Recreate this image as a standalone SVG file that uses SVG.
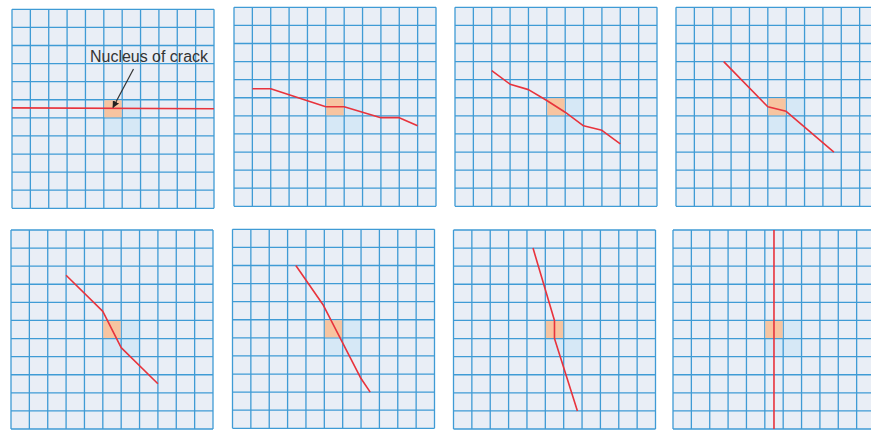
<svg xmlns="http://www.w3.org/2000/svg" xmlns:xlink="http://www.w3.org/1999/xlink" width="871" height="430" viewBox="0 0 871 430">
<style>
.bg{fill:#e9eef6}
.zone{fill:#d6e8f6}
.gl{fill:none;stroke:#3f9bd5;stroke-width:1.3}
.nuc{fill:#f7c4a0}
.crack{fill:none;stroke:#e8333c;stroke-width:1.6;stroke-linejoin:round;vector-effect:non-scaling-stroke}
.lbl{font-family:"Liberation Sans",Arial,sans-serif;font-size:16px;fill:#333}
.ptr{fill:none;stroke:#333;stroke-width:1.2}
</style>
<defs>
<marker id="ah" viewBox="0 0 10 10" refX="9" refY="5" markerWidth="7" markerHeight="7" orient="auto" markerUnits="userSpaceOnUse">
<path d="M0 0L10 5L0 10z" fill="#222"/>
</marker>
<g id="grid">
<rect class="bg" x="0" y="0" width="202" height="199"/>
<rect class="zone" x="91.82" y="90.45" width="36.73" height="36.19"/>
<path class="gl" d="M0 0V199M18.36 0V199M36.73 0V199M55.09 0V199M73.45 0V199M91.82 0V199M110.18 0V199M128.55 0V199M146.91 0V199M165.27 0V199M183.64 0V199M202 0V199M0 0H202M0 18.09H202M0 36.18H202M0 54.27H202M0 72.36H202M0 90.45H202M0 108.55H202M0 126.64H202M0 144.73H202M0 162.82H202M0 180.91H202M0 199H202"/>
<rect class="nuc" x="92.3" y="90.95" width="17.4" height="17.1"/>
</g>
</defs>
<g id="panel-1" transform="translate(12,9.3)">
<use xlink:href="#grid"/>
<polyline class="crack" transform="scale(18.36,18.09)" points="0,5.45 11,5.5"/>
</g>
<g id="panel-2" transform="translate(234,7.3)">
<use xlink:href="#grid"/>
<polyline class="crack" transform="scale(18.36,18.09)" points="1,4.5 2,4.5 5,5.5 6,5.5 8,6.1 9,6.1 10,6.55"/>
</g>
<g id="panel-3" transform="translate(455,7.3)">
<use xlink:href="#grid"/>
<polyline class="crack" transform="scale(18.36,18.09)" points="2,3.5 3,4.25 4,4.55 5,5.15 6,5.8 7,6.55 8,6.8 9,7.55"/>
</g>
<g id="panel-4" transform="translate(676,7.3)">
<use xlink:href="#grid"/>
<polyline class="crack" transform="scale(18.36,18.09)" points="2.6,3 5,5.5 6,5.75 8.6,8"/>
</g>
<g id="panel-5" transform="translate(11,230)">
<use xlink:href="#grid"/>
<polyline class="crack" transform="scale(18.36,18.09)" points="3,2.5 5,4.5 6,6.5 8,8.5"/>
</g>
<g id="panel-6" transform="translate(232.5,229.3)">
<use xlink:href="#grid"/>
<polyline class="crack" transform="scale(18.36,18.09)" points="3.45,2 4.95,4.2 7,8.25 7.5,9"/>
</g>
<g id="panel-7" transform="translate(453.5,230)">
<use xlink:href="#grid"/>
<polyline class="crack" transform="scale(18.36,18.09)" points="4.33,1 5.5,5 5.5,6 6.75,10"/>
</g>
<g id="panel-8" transform="translate(673,230)">
<use xlink:href="#grid"/>
<polyline class="crack" transform="scale(18.36,18.09)" points="5.5,0 5.5,11"/>
</g>
<g id="connectors">
<line class="ptr" x1="133.5" y1="69" x2="113" y2="107.5" marker-end="url(#ah)"/>
</g>
<g id="label-nucleus">
<text class="lbl" x="90" y="62" textLength="118" lengthAdjust="spacingAndGlyphs">Nucleus of crack</text>
</g>
</svg>
